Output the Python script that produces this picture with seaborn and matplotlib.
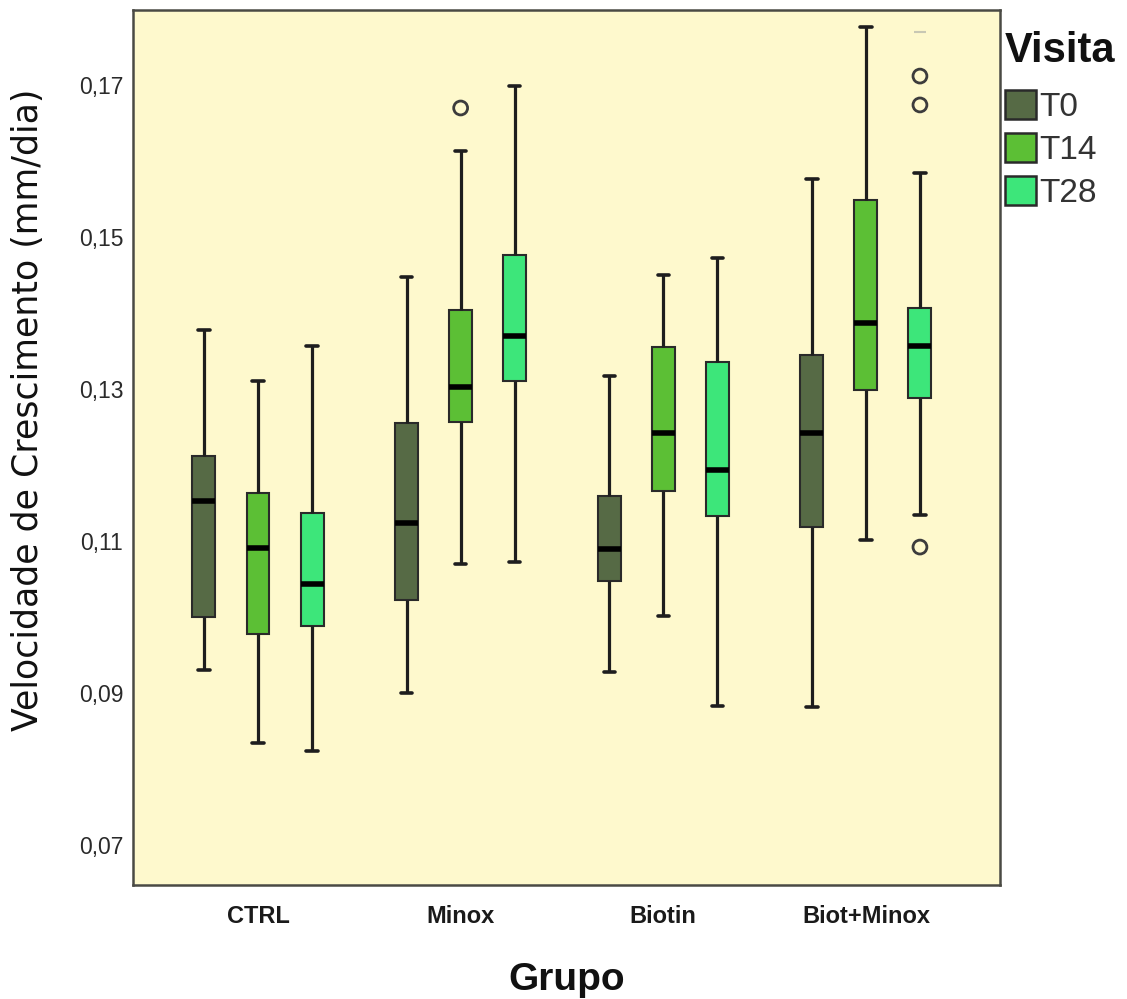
import numpy as np
import pandas as pd
import matplotlib
matplotlib.use("Agg")
import matplotlib.pyplot as plt
import seaborn as sns
from matplotlib.ticker import FuncFormatter, FixedLocator

# ---------------- data ----------------
groups = ["CTRL", "Minox", "Biotin", "Biot+Minox"]
visits = ["T0", "T14", "T28"]

# five-number summaries per group, per visit: [lower whisker, Q1, median, Q3, upper whisker]
ctrl_t0 = [0.0930, 0.1000, 0.1153, 0.1212, 0.1378]
ctrl_t14 = [0.0834, 0.0978, 0.1091, 0.1163, 0.1311]
ctrl_t28 = [0.0824, 0.0988, 0.1043, 0.1137, 0.1357]
minox_t0 = [0.0900, 0.1022, 0.1124, 0.1255, 0.1447]
minox_t14 = [0.1070, 0.1257, 0.1303, 0.1404, 0.1614]
minox_t28 = [0.1072, 0.1311, 0.1370, 0.1476, 0.1699]
biotin_t0 = [0.0928, 0.1047, 0.1090, 0.1159, 0.1317]
biotin_t14 = [0.1001, 0.1166, 0.1242, 0.1355, 0.1450]
biotin_t28 = [0.0883, 0.1133, 0.1193, 0.1336, 0.1472]
bm_t0 = [0.0882, 0.1118, 0.1242, 0.1345, 0.1576]
bm_t14 = [0.1101, 0.1299, 0.1387, 0.1549, 0.1776]
bm_t28 = [0.1134, 0.1288, 0.1357, 0.1407, 0.1584]

# outliers (open circles)
out_group = ["Minox", "Biot+Minox", "Biot+Minox", "Biot+Minox"]
out_visit = ["T14", "T28", "T28", "T28"]
out_value = [0.1670, 0.1712, 0.1674, 0.1092]

# extreme value (faint dash at the top)
ext_group = ["Biot+Minox"]
ext_visit = ["T28"]
ext_value = [0.1770]

y_ticks = [0.07, 0.09, 0.11, 0.13, 0.15, 0.17]

colors = {"T0": "#566A45", "T14": "#5CBF35", "T28": "#3DE67A"}

# ---------------- long-form table ----------------
summaries = {
    ("CTRL", "T0"): ctrl_t0, ("CTRL", "T14"): ctrl_t14, ("CTRL", "T28"): ctrl_t28,
    ("Minox", "T0"): minox_t0, ("Minox", "T14"): minox_t14, ("Minox", "T28"): minox_t28,
    ("Biotin", "T0"): biotin_t0, ("Biotin", "T14"): biotin_t14, ("Biotin", "T28"): biotin_t28,
    ("Biot+Minox", "T0"): bm_t0, ("Biot+Minox", "T14"): bm_t14, ("Biot+Minox", "T28"): bm_t28,
}
rows = []
for (g, v), vals in summaries.items():
    for val in vals:
        rows.append({"Grupo": g, "Visita": v, "val": val})
df = pd.DataFrame(rows)
df_out = pd.DataFrame({"Grupo": out_group, "Visita": out_visit, "val": out_value})
df_ext = pd.DataFrame({"Grupo": ext_group, "Visita": ext_visit, "val": ext_value})

# ---------------- figure ----------------
sns.set_theme(style="white")
plt.rcParams["font.family"] = ["Liberation Sans", "DejaVu Sans"]

fig = plt.figure(figsize=(11.27, 9.99), dpi=100)
ax = fig.add_axes([0.118, 0.114, 0.769, 0.876])
ax.set_facecolor("#FEF9CD")

sns.boxplot(
    data=df, x="Grupo", y="val", hue="Visita",
    order=groups, hue_order=visits, palette=colors, saturation=1,
    whis=(0, 100), width=0.8, gap=0.575, dodge=True,
    linecolor="#2a2a2a", linewidth=1.5, fliersize=0,
    whiskerprops=dict(linewidth=2.3, color="#1e1e1e"),
    capprops=dict(linewidth=2.6, color="#1e1e1e"),
    medianprops=dict(linewidth=4.0, color="#000000"),
    boxprops=dict(linewidth=1.5, edgecolor="#2a2a2a"),
    ax=ax,
)

n0 = len(ax.collections)
sns.stripplot(
    data=df_out, x="Grupo", y="val", hue="Visita",
    order=groups, hue_order=visits, palette=colors,
    dodge=True, jitter=False, size=10, linewidth=2.0,
    edgecolor="#3c3c3c", legend=False, ax=ax, zorder=5,
)
for c in ax.collections[n0:]:
    c.set_facecolor("none")
    c.set_edgecolor("#3c3c3c")

n1 = len(ax.collections)
sns.stripplot(
    data=df_ext, x="Grupo", y="val", hue="Visita",
    order=groups, hue_order=visits, palette=colors,
    dodge=True, jitter=False, size=9, marker="_", linewidth=1.5,
    legend=False, ax=ax, zorder=5,
)
for c in ax.collections[n1:]:
    c.set_edgecolor("#c8c8b4")
    c.set_facecolor("#c8c8b4")

# ---------------- axes styling ----------------
ax.set_xlim(-0.617, 3.66)
ax.set_ylim(0.0647, 0.1799)
ax.yaxis.set_major_locator(FixedLocator(y_ticks))
ax.yaxis.set_major_formatter(FuncFormatter(lambda v, p: f"{v:.2f}".replace(".", ",")))
ax.tick_params(axis="both", length=0)
ax.tick_params(axis="y", labelsize=16.5, labelcolor="#2a2a2a", pad=7)
ax.tick_params(axis="x", labelsize=17, pad=14)
for lbl in ax.get_xticklabels():
    lbl.set_fontweight("bold")
    lbl.set_color("#1a1a1a")

ax.set_xlabel("Grupo", fontsize=28, fontweight="bold", labelpad=25, color="#111111")
ax.set_ylabel("Velocidade de Crescimento (mm/dia)", fontsize=25, color="#111111",
              family=["DejaVu Sans"])
ax.yaxis.set_label_coords(-0.102, 0.543)

for s in ax.spines.values():
    s.set_visible(True)
    s.set_color("#4a4a44")
    s.set_linewidth(1.8)

# ---------------- legend ----------------
leg = ax.legend(
    title="Visita", loc="upper left", bbox_to_anchor=(1.0, 0.982),
    frameon=False, fontsize=24, title_fontsize=30,
    handlelength=0.95, handleheight=0.95, handletextpad=0.1,
    labelspacing=0.3, borderaxespad=0.0, borderpad=0.15, alignment="left",
)
leg._legend_box.sep = 14
leg.get_title().set_fontweight("bold")
leg.get_title().set_color("#111111")
for t in leg.get_texts():
    t.set_color("#333333")
for h in leg.legend_handles:
    h.set_edgecolor("#2a2a2a")
    h.set_linewidth(1.8)

fig.savefig("out.png", dpi=100, facecolor="white")
